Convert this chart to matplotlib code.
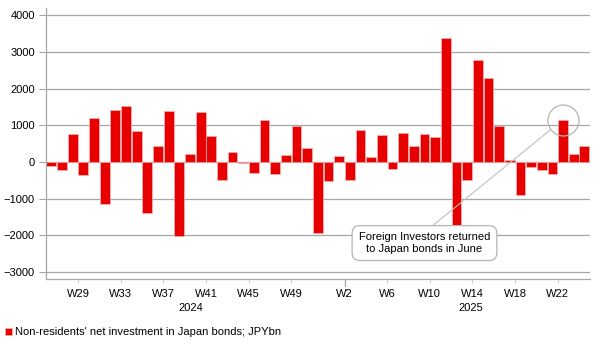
import numpy as np
import matplotlib
matplotlib.use("Agg")
import matplotlib.pyplot as plt

plt.rcParams['font.family'] = ['Liberation Sans', 'DejaVu Sans']

# weekly net investment, JPYbn
weeks_2024 = [f"W{w}" for w in range(26, 53)]
weeks_2025 = [f"W{w}" for w in range(1, 25)]
weeks = weeks_2024 + weeks_2025
values = [-120, -225, 770, -350, 1210, -1150, 1430, 1520, 860, -1390,
          450, 1390, -2010, 215, 1370, 710, -485, 280, -35, -290,
          1160, -315, 180, 995, 380, -1940, -530,
          165, -495, 875, 135, 725, -180, 785, 445, 770, 690,
          3380, -1790, -480, 2790, 2300, 995, 55, -910, -135, -215,
          -325, 1160, 215, 435]
labelled = ["W29", "W33", "W37", "W41", "W45", "W49",
            "W2", "W6", "W10", "W14", "W18", "W22"]
years = ["2024", "2025"]
note_week = "W22"
note_text = "Foreign Investors returned\nto Japan bonds in June"

red = '#e60000'
grey = '#a6a6a6'

fig = plt.figure(figsize=(6.03, 3.52), dpi=100)
ax = fig.add_axes([0.0763, 0.2074, 0.9017, 0.7696])

x = np.arange(len(weeks))
bars = ax.bar(x, values, width=0.92, color=red, edgecolor='#f6b4b4',
              linewidth=0.5, zorder=2,
              label="Non-residents' net investment in Japan bonds; JPYbn")

ax.set_xlim(-0.5, len(weeks) - 0.5)
ax.set_ylim(-3190, 4200)
ax.set_yticks(np.arange(-3000, 4001, 1000))
ax.grid(axis='y', color=grey, linewidth=0.9, zorder=0)

for s in ['top', 'right']:
    ax.spines[s].set_visible(False)
for s in ['left', 'bottom']:
    ax.spines[s].set_color(grey)
    ax.spines[s].set_linewidth(0.9)

tick_pos = [weeks.index(w) - 0.5 for w in labelled]
ax.set_xticks(tick_pos)
ax.set_xticklabels(labelled)
ax.tick_params(axis='x', length=3, color='#d0d0d0', labelsize=8, pad=4.5)
ax.tick_params(axis='y', length=5, color=grey, labelsize=8, pad=3)

# year separator and year labels
sep = len(weeks_2024) + 0.5
ax.plot([sep, sep], [0, -0.025], transform=ax.get_xaxis_transform(),
        color=grey, linewidth=0.9, clip_on=False)
ax.text(13.1, -0.107, years[0], transform=ax.get_xaxis_transform(),
        ha='center', va='center', fontsize=8)
ax.text(39.35, -0.107, years[1], transform=ax.get_xaxis_transform(),
        ha='center', va='center', fontsize=8)

# annotation
i = weeks.index(note_week)
ax.plot(i, values[i], marker='o', markersize=22.3, markerfacecolor='none',
        markeredgecolor='#b4b4b4', markeredgewidth=0.9, zorder=4)
ax.annotate(note_text, xy=(i, values[i]), xytext=(35.0, -2210),
            ha='center', va='center', fontsize=8, zorder=5,
            bbox=dict(boxstyle='round,pad=0.6,rounding_size=0.7',
                      fc='white', ec='#b4b4b4', lw=0.9),
            arrowprops=dict(arrowstyle='-', color='#c0c0c0', lw=0.8,
                            relpos=(0.5, 1.0), shrinkA=0, shrinkB=11.5))

fig.legend(handles=[bars], loc='lower left', bbox_to_anchor=(0.008, 0.0415),
           frameon=False, fontsize=8, handlelength=0.65, handleheight=0.65,
           handletextpad=0.3, borderpad=0, borderaxespad=0)

fig.savefig('out.png', dpi=100)
